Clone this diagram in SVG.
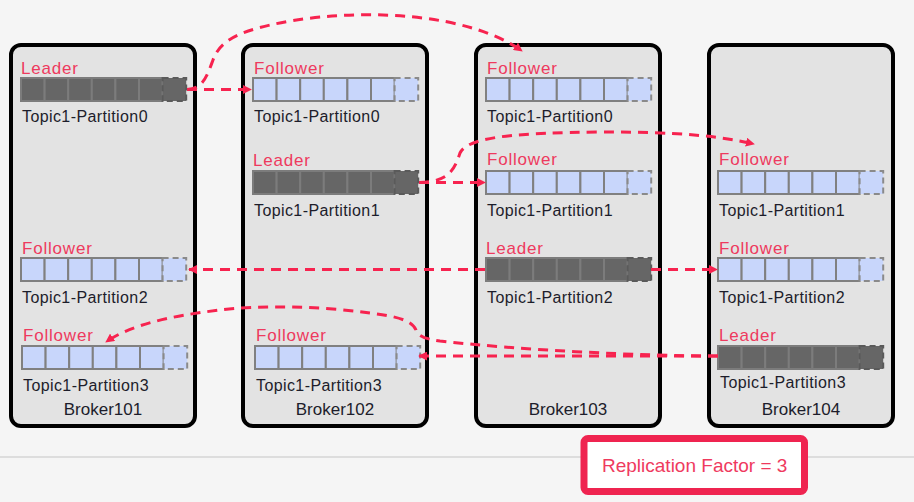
<svg xmlns="http://www.w3.org/2000/svg" xmlns:xlink="http://www.w3.org/1999/xlink" width="914" height="502" viewBox="0 0 914 502">
<style>
.broker{fill:#e3e3e3;stroke:#000;stroke-width:4}
.role{font-family:"Liberation Sans",Arial,sans-serif;font-size:17px;letter-spacing:0.8px;fill:#ee3a5e}
.topic{font-family:"Liberation Sans",Arial,sans-serif;font-size:16px;letter-spacing:0.4px;fill:#1d1d2b}
.bname{font-family:"Liberation Sans",Arial,sans-serif;font-size:17px;fill:#1d1d2b;text-anchor:middle}
.fc{fill:#c8d6fb;stroke:#808080;stroke-width:2}
.fl{fill:#c8d6fb;stroke:#8a8a8a;stroke-width:2;stroke-dasharray:6 4}
.lc{fill:#666;stroke:#7c7c7c;stroke-width:2}
.ll{fill:#666;stroke:#5a5a5a;stroke-width:2;stroke-dasharray:6 4}
.conn{fill:none;stroke:#f7234f;stroke-width:3;stroke-dasharray:10 7}
</style>
<defs>
<marker id="ah" viewBox="0 0 10 10" refX="9" refY="5" markerWidth="9" markerHeight="9" markerUnits="userSpaceOnUse" orient="auto">
<path d="M0,0 L10,5 L0,10 z" fill="#f7234f"/>
</marker>
<g id="fbar">
<rect class="fc" x="0" y="0" width="23.6" height="23"/>
<rect class="fc" x="23.6" y="0" width="23.6" height="23"/>
<rect class="fc" x="47.2" y="0" width="23.6" height="23"/>
<rect class="fc" x="70.8" y="0" width="23.6" height="23"/>
<rect class="fc" x="94.4" y="0" width="23.6" height="23"/>
<rect class="fc" x="118" y="0" width="23.6" height="23"/>
<rect class="fl" x="141.6" y="0" width="23.6" height="23"/>
</g>
<g id="lbar">
<rect class="lc" x="0" y="0" width="23.6" height="23"/>
<rect class="lc" x="23.6" y="0" width="23.6" height="23"/>
<rect class="lc" x="47.2" y="0" width="23.6" height="23"/>
<rect class="lc" x="70.8" y="0" width="23.6" height="23"/>
<rect class="lc" x="94.4" y="0" width="23.6" height="23"/>
<rect class="lc" x="118" y="0" width="23.6" height="23"/>
<rect class="ll" x="141.6" y="0" width="23.6" height="23"/>
</g>
</defs>
<rect x="0" y="0" width="914" height="502" fill="#f5f5f5"/>
<line x1="0" y1="457" x2="914" y2="457" stroke="#d4d4d4" stroke-width="1.5"/>

<g id="broker101">
<rect class="broker" x="11" y="45" width="184" height="381" rx="10"/>
<text class="role" x="21" y="74">Leader</text>
<use xlink:href="#lbar" x="21" y="78"/>
<text class="topic" x="22" y="122">Topic1-Partition0</text>
<text class="role" x="22" y="254">Follower</text>
<use xlink:href="#fbar" x="21" y="258"/>
<text class="topic" x="22" y="303">Topic1-Partition2</text>
<text class="role" x="23" y="341">Follower</text>
<use xlink:href="#fbar" x="22" y="346"/>
<text class="topic" x="23" y="391">Topic1-Partition3</text>
<text class="bname" x="103" y="415">Broker101</text>
</g>

<g id="broker102">
<rect class="broker" x="243" y="45" width="184" height="381" rx="10"/>
<text class="role" x="254" y="74">Follower</text>
<use xlink:href="#fbar" x="253" y="78"/>
<text class="topic" x="254" y="122">Topic1-Partition0</text>
<text class="role" x="253" y="166">Leader</text>
<use xlink:href="#lbar" x="253" y="171"/>
<text class="topic" x="254" y="216">Topic1-Partition1</text>
<text class="role" x="256" y="341">Follower</text>
<use xlink:href="#fbar" x="255" y="346"/>
<text class="topic" x="256" y="391">Topic1-Partition3</text>
<text class="bname" x="335" y="415">Broker102</text>
</g>

<g id="broker103">
<rect class="broker" x="476" y="45" width="184" height="381" rx="10"/>
<text class="role" x="487" y="74">Follower</text>
<use xlink:href="#fbar" x="486" y="78"/>
<text class="topic" x="487" y="122">Topic1-Partition0</text>
<text class="role" x="487" y="165">Follower</text>
<use xlink:href="#fbar" x="486" y="171"/>
<text class="topic" x="487" y="216">Topic1-Partition1</text>
<text class="role" x="486" y="254">Leader</text>
<use xlink:href="#lbar" x="486" y="258"/>
<text class="topic" x="487" y="303">Topic1-Partition2</text>
<text class="bname" x="568" y="415">Broker103</text>
</g>

<g id="broker104">
<rect class="broker" x="709" y="45" width="184" height="381" rx="10"/>
<text class="role" x="719" y="165">Follower</text>
<use xlink:href="#fbar" x="718" y="171"/>
<text class="topic" x="719" y="216">Topic1-Partition1</text>
<text class="role" x="719" y="254">Follower</text>
<use xlink:href="#fbar" x="718" y="258"/>
<text class="topic" x="719" y="303">Topic1-Partition2</text>
<text class="role" x="719" y="341">Leader</text>
<use xlink:href="#lbar" x="718" y="346"/>
<text class="topic" x="720" y="388">Topic1-Partition3</text>
<text class="bname" x="801" y="415">Broker104</text>
</g>

<g id="connectors">
<path class="conn" d="M187,89.5 L251,89.5" marker-end="url(#ah)"/>
<path class="conn" d="M187,89.5 C203,89 207,76 213,60 C220,40 240,30 290,21 C370,8 470,14 522,51" marker-end="url(#ah)"/>
<path class="conn" d="M419,182.5 L485,182.5" marker-end="url(#ah)"/>
<path class="conn" d="M419,182.5 C450,182 455,168 460,153 C468,136 520,133 600,132 C680,132 720,136 754,144" marker-end="url(#ah)"/>
<path class="conn" d="M485,269.5 L189,269.5" marker-end="url(#ah)"/>
<path class="conn" d="M651,269.5 L717,269.5" marker-end="url(#ah)"/>
<path class="conn" d="M718,356 L419,356" marker-end="url(#ah)"/>
<path class="conn" d="M718,356 C640,356 520,350 440,341 C425,339 418,336 416,330 C412,320 395,316 370,313 C320,306 260,305 220,310 C170,316 130,325 106,342" marker-end="url(#ah)"/>
</g>

<g id="replication">
<rect x="584" y="438.5" width="220.5" height="53" rx="4" fill="#ffffff" stroke="#ef2450" stroke-width="7"/>
<text x="602" y="472" font-family="Liberation Sans, Arial, sans-serif" font-size="19" fill="#ef3a5e">Replication Factor = 3</text>
</g>
</svg>
